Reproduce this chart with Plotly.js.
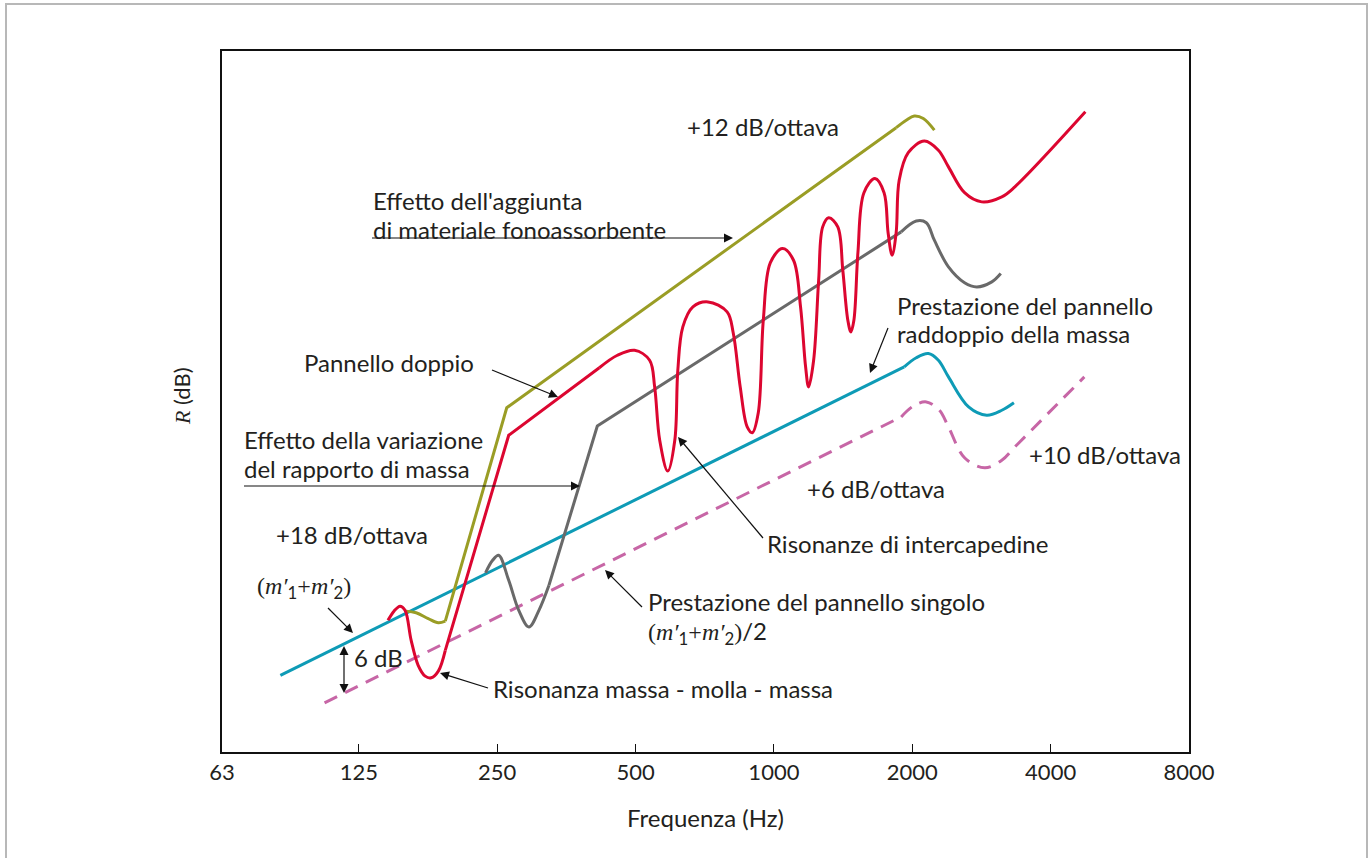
<!DOCTYPE html>
<html>
<head>
<meta charset="utf-8">
<script src="https://cdn.plot.ly/plotly-3.0.1.min.js"></script>
<style>
  html, body { margin: 0; padding: 0; background: #ffffff; }
  #chart { width: 1370px; height: 858px; }
</style>
</head>
<body>
<div id="chart"></div>
<script>
// ---------- data (frequency in Hz, R in dB) ----------
const xTickVals = [63, 125, 250, 500, 1000, 2000, 4000, 8000];
const xTickText = ['63', '125', '250', '500', '1000', '2000', '4000', '8000'];

// Prestazione del pannello singolo (m'1+m'2)/2  (pink dashed)
const pinkLineFreq = [105.3, 1892];
const pinkLineDb   = [5.9, 40.2];
const pinkTopFreq  = [1892, 2010, 2146, 2291, 2397.6, 2599, 2875, 3132, 3344, 4736];
const pinkTopDb    = [40.2, 41.5, 42.0, 41.0, 39.0, 35.3, 34.1, 35.0, 36.6, 45.0];

// Prestazione del pannello raddoppio della massa (m'1+m'2)  (teal)
const tealLineFreq = [84.4, 1921];
const tealLineDb   = [9.2, 46.2];
const tealTopFreq  = [1921, 2040.6, 2168, 2279.6, 2397.6, 2652, 2904, 3132, 3328];
const tealTopDb    = [46.2, 47.3, 47.8, 47.0, 45.0, 41.4, 40.4, 41.0, 41.9];

// Effetto della variazione del rapporto di massa  (grey)
const greyBumpFreq = [235.9, 244.4, 251.9, 264.9, 278.6, 293.1, 308.2, 324.1];
const greyBumpDb   = [21.5, 23.0, 23.6, 20.6, 17.0, 15.0, 17.0, 20.0];
const greyRiseFreq = [324.1, 412.9, 1892];
const greyRiseDb   = [20.0, 39.1, 62.4];
const greyTopFreq  = [1892, 2040.6, 2146, 2234, 2397.6, 2599, 2762, 2979, 3116];
const greyTopDb    = [62.4, 63.7, 63.5, 61.4, 58.2, 56.3, 55.8, 56.4, 57.4];

// Effetto dell'aggiunta di materiale fonoassorbente  (olive green)
const greenBumpFreq = [158.4, 166.6, 177.0, 186.2, 192.8];
const greenBumpDb   = [16.9, 16.7, 16.0, 15.5, 15.7];
const greenRiseFreq = [192.8, 262.3, 1844.9];
const greenRiseDb   = [15.7, 41.3, 74.9];
const greenTopFreq  = [1844.9, 1940.5, 2020, 2114, 2234];
const greenTopDb    = [74.9, 75.8, 76.3, 76.0, 74.6];

// Pannello doppio  (red)
const redLowFreq  = [144.7, 149.1, 153.7, 157.6, 162.5, 168.3, 174.3, 179.7, 186.2, 192.8];
const redLowDb    = [15.8, 16.9, 17.5, 17.0, 13.4, 10.4, 9.1, 8.9, 9.7, 12.2];
const redRiseFreq = [192.8, 264.9, 417.1];
const redRiseDb   = [12.2, 38.0, 46.1];
const redResFreq  = [417.1, 456.6, 497.5, 536.6, 550.3, 564.4, 587.6, 608.7, 618.0, 633.7,
                     666.5, 718.9, 791.1, 815.6, 844.8, 874.9, 897.3, 924.8, 948.4, 982.5,
                     1043.8, 1103.3, 1142.9, 1172.2, 1189.9, 1220.3, 1251.4, 1276.9, 1316.3, 1377.3,
                     1412.3, 1448.4, 1470.5, 1493.0, 1523.4, 1570, 1659.5, 1736.6, 1772, 1808,
                     1844.9, 1873.1, 1960, 2124.8, 2279.6, 2397.6, 2599, 2832, 3132, 3344, 4760];
const redResDb    = [46.1, 47.6, 48.2, 47.0, 43.8, 37.4, 33.7, 37.4, 45.8, 51.0,
                     53.4, 54.0, 52.8, 50.3, 43.8, 39.0, 38.3, 40.7, 51.8, 58.7,
                     60.4, 59.0, 53.4, 46.2, 43.8, 47.0, 56.6, 63.0, 64.1, 63.0,
                     57.8, 51.8, 50.4, 51.8, 59.9, 67.1, 68.8, 67.1, 62.3, 59.6,
                     62.3, 68.6, 71.9, 73.3, 72.2, 70.2, 67.1, 66.0, 66.6, 67.8, 76.8];

// ---------- styling ----------
const TXT = '#231f20';
const FONT = 'Lato, "Noto Sans", sans-serif';
const SERIF = 'Liberation Serif, DejaVu Serif, serif';
const C = { pink: '#c766a6', teal: '#0e9bb6', grey: '#696969', green: '#9a9d25', red: '#dc0630' };

// plot-area geometry (pixels) used only to place texts and pointer arrows
const PL = 222, PR = 1189, PT = 51, PB = 752;
const PW = PR - PL, PH = PB - PT;
const px2x = (px) => (px - PL) / PW;
const py2y = (py) => (PB - py) / PH;

function seg(name, x, y, color, shape, dash) {
  return {
    type: 'scatter', mode: 'lines', name: name, x: x, y: y, showlegend: false, hoverinfo: 'skip',
    line: { color: color, width: 3, shape: shape, smoothing: 1, dash: dash || 'solid' }
  };
}
const pinkDash = '14px,9px';
const traces = [
  seg('Pannello singolo', pinkLineFreq, pinkLineDb, C.pink, 'linear', pinkDash),
  seg('Pannello singolo', pinkTopFreq, pinkTopDb, C.pink, 'spline', pinkDash),
  seg('Raddoppio della massa', tealLineFreq, tealLineDb, C.teal, 'linear'),
  seg('Raddoppio della massa', tealTopFreq, tealTopDb, C.teal, 'spline'),
  seg('Variazione rapporto di massa', greyBumpFreq, greyBumpDb, C.grey, 'spline'),
  seg('Variazione rapporto di massa', greyRiseFreq, greyRiseDb, C.grey, 'linear'),
  seg('Variazione rapporto di massa', greyTopFreq, greyTopDb, C.grey, 'spline'),
  seg('Materiale fonoassorbente', greenBumpFreq, greenBumpDb, C.green, 'spline'),
  seg('Materiale fonoassorbente', greenRiseFreq, greenRiseDb, C.green, 'linear'),
  seg('Materiale fonoassorbente', greenTopFreq, greenTopDb, C.green, 'spline'),
  seg('Pannello doppio', redLowFreq, redLowDb, C.red, 'spline'),
  seg('Pannello doppio', redRiseFreq, redRiseDb, C.red, 'linear'),
  seg('Pannello doppio', redResFreq, redResDb, C.red, 'spline')
];

const S = (t) => '<span style="font-family:' + SERIF + '">' + t + '</span>';
const M = S('(') + S('<i>m′</i>') + '<sub>1</sub>' + S('+') + S('<i>m′</i>') + '<sub>2</sub>' + S(')');

function label(text, pxLeft, pyMid) {
  return { xref: 'paper', yref: 'paper', x: px2x(pxLeft - 1), y: py2y(pyMid), xanchor: 'left', yanchor: 'middle',
           align: 'left', text: text, showarrow: false, borderpad: 0,
           font: { family: FONT, size: 24, color: TXT } };
}

const annotations = [
  label('+12 dB/ottava', 687, 126),
  label("Effetto dell'aggiunta", 373, 200),
  label('di materiale fonoassorbente', 373, 229),
  label('Pannello doppio', 304, 363),
  label('Effetto della variazione', 244, 440),
  label('del rapporto di massa', 244, 468),
  label('+18 dB/ottava', 276, 534),
  label(M, 257, 588),
  label('6 dB', 354, 657),
  label('Risonanza massa - molla - massa', 493, 688),
  label('Prestazione del pannello singolo', 648, 601),
  label(M + '/2', 648, 632),
  label('Risonanze di intercapedine', 767, 543),
  label('+6 dB/ottava', 807, 488),
  label('+10 dB/ottava', 1029, 454),
  label('Prestazione del pannello', 897, 305),
  label('raddoppio della massa', 897, 333),
  { xref: 'paper', yref: 'paper', x: px2x(181), y: py2y(396), xanchor: 'center', yanchor: 'middle',
    textangle: -90, showarrow: false, text: S('<i>R</i>') + ' (dB)', font: { family: FONT, size: 22, color: TXT } }
];

// pointer arrows: [tail, tip, double-headed]  (pixel positions of the annotation pointers)
const pointerArrows = [
  [[372, 238], [733, 238], false],
  [[492, 370], [558, 397], false],
  [[244, 486], [580, 486], false],
  [[763, 538], [678, 437], false],
  [[888, 328], [870, 373], false],
  [[328, 608], [353, 633], false],
  [[344, 646], [344, 693], true],
  [[488, 688], [440, 673], false],
  [[642, 607], [605, 570], false]
];

function headPath(tip, d, L, W) {
  const bx = tip[0] - d[0] * L, by = tip[1] - d[1] * L;
  const nx = -d[1], ny = d[0];
  const p = [[tip[0], tip[1]], [bx + nx * W, by + ny * W], [bx - nx * W, by - ny * W]];
  return 'M' + p.map(q => px2x(q[0]).toFixed(5) + ',' + py2y(q[1]).toFixed(5)).join('L') + 'Z';
}
const shapes = [
  { type: 'rect', xref: 'paper', yref: 'paper', x0: px2x(6), x1: px2x(1367), y0: py2y(875), y1: py2y(4),
    line: { color: '#b8b8b8', width: 2 }, fillcolor: 'rgba(0,0,0,0)', layer: 'below' }
];
const HL = 9, HW = 4.5;
pointerArrows.forEach(([tail, tip, both]) => {
  const dx = tip[0] - tail[0], dy = tip[1] - tail[1];
  const len = Math.hypot(dx, dy);
  const d = [dx / len, dy / len];
  const end = [tip[0] - d[0] * HL * 0.8, tip[1] - d[1] * HL * 0.8];
  const start = both ? [tail[0] + d[0] * HL * 0.8, tail[1] + d[1] * HL * 0.8] : tail;
  shapes.push({ type: 'line', xref: 'paper', yref: 'paper', x0: px2x(start[0]), y0: py2y(start[1]),
                x1: px2x(end[0]), y1: py2y(end[1]), line: { color: '#111111', width: 1.2 } });
  shapes.push({ type: 'path', xref: 'paper', yref: 'paper', path: headPath(tip, d, HL, HW),
                fillcolor: '#111111', line: { width: 0 } });
  if (both) {
    shapes.push({ type: 'path', xref: 'paper', yref: 'paper', path: headPath(tail, [-d[0], -d[1]], HL, HW),
                  fillcolor: '#111111', line: { width: 0 } });
  }
});

const layout = {
  width: 1370, height: 858,
  margin: { l: PL, r: 1370 - PR, t: PT, b: 858 - PB, pad: 0 },
  paper_bgcolor: '#ffffff', plot_bgcolor: '#ffffff',
  font: { family: FONT, size: 22, color: TXT },
  showlegend: false,
  xaxis: {
    type: 'log', range: [Math.log10(63), Math.log10(8000)],
    tickmode: 'array', tickvals: xTickVals, ticktext: xTickText,
    ticks: 'inside', ticklen: 8, tickwidth: 1.2, tickcolor: '#111111',
    showline: true, mirror: true, linecolor: '#111111', linewidth: 2,
    showgrid: false, zeroline: false,
    tickfont: { family: FONT, size: 22, color: TXT },
    title: { text: 'Frequenza (Hz)', font: { family: FONT, size: 24, color: TXT }, standoff: 26 }
  },
  yaxis: {
    range: [0, 84.1], showticklabels: false, ticks: '',
    showline: true, mirror: true, linecolor: '#111111', linewidth: 2,
    showgrid: false, zeroline: false
  },
  annotations: annotations,
  shapes: shapes
};

Plotly.newPlot('chart', traces, layout, { staticPlot: true, displayModeBar: false });
</script>
</body>
</html>
